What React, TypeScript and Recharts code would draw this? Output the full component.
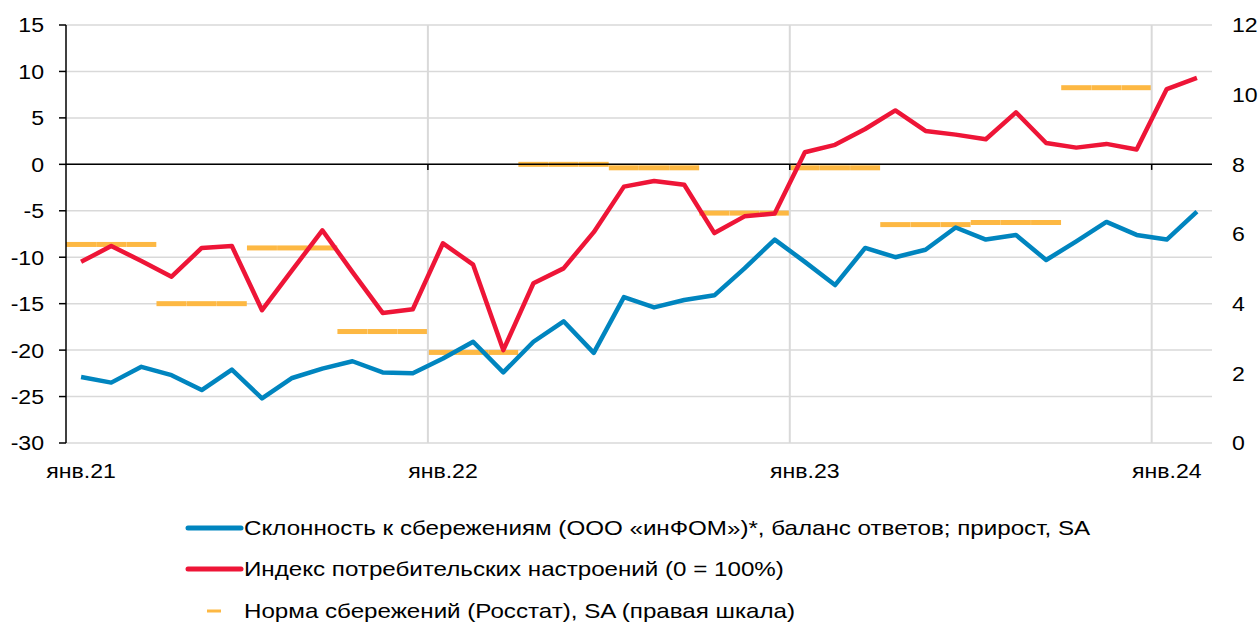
import React from 'react';
import { ComposedChart, Line, Bar, XAxis, YAxis, CartesianGrid, ReferenceLine } from 'recharts';

const BLUE = '#0085BF';
const RED = '#EE1537';
const YELLOW = '#FDB843';
const GRID = '#D9D9D9';
const FONT = 'Liberation Sans, Arial, sans-serif';

const months = [
  'янв.21', 'фев.21', 'мар.21', 'апр.21', 'май.21', 'июн.21', 'июл.21', 'авг.21', 'сен.21', 'окт.21', 'ноя.21', 'дек.21',
  'янв.22', 'фев.22', 'мар.22', 'апр.22', 'май.22', 'июн.22', 'июл.22', 'авг.22', 'сен.22', 'окт.22', 'ноя.22', 'дек.22',
  'янв.23', 'фев.23', 'мар.23', 'апр.23', 'май.23', 'июн.23', 'июл.23', 'авг.23', 'сен.23', 'окт.23', 'ноя.23', 'дек.23',
  'янв.24', 'фев.24',
];

// склонность к сбережениям (инФОМ), баланс ответов
const propensity = [
  -22.9, -23.5, -21.8, -22.7, -24.3, -22.1, -25.2, -23.0, -22.0, -21.2, -22.4, -22.5,
  -20.9, -19.1, -22.4, -19.1, -16.9, -20.3, -14.3, -15.4, -14.6, -14.1, -11.2, -8.1,
  -10.5, -13.0, -9.0, -10.0, -9.2, -6.8, -8.1, -7.6, -10.3, -8.3, -6.2, -7.6,
  -8.1, -5.1,
];

// индекс потребительских настроений
const sentiment = [
  -10.5, -8.8, -10.4, -12.1, -9.0, -8.8, -15.7, -11.4, -7.1, -11.6, -16.0, -15.6,
  -8.5, -10.8, -20.0, -12.8, -11.2, -7.3, -2.4, -1.8, -2.2, -7.4, -5.6, -5.3,
  1.3, 2.1, 3.8, 5.8, 3.6, 3.2, 2.7, 5.6, 2.3, 1.8, 2.2, 1.6,
  8.1, 9.3,
];

// норма сбережений Росстат, по кварталам (правая шкала)
const savingsRate = [5.7, 4.0, 5.6, 3.2, 2.6, 8.0, 7.9, 6.6, 7.9, 6.27, 6.33, 10.2];

const yearTicks = ['янв.22', 'янв.23', 'янв.24'];
const leftTicks = [-30, -25, -20, -15, -10, -5, 0, 5, 10, 15];
const rightTicks = [0, 2, 4, 6, 8, 10, 12];

const legendItems = [
  { label: 'Склонность к сбережениям (ООО «инФОМ»)*, баланс ответов; прирост, SA', color: BLUE, kind: 'line' },
  { label: 'Индекс потребительских настроений (0 = 100%)', color: RED, kind: 'line' },
  { label: 'Норма сбережений (Росстат), SA (правая шкала)', color: YELLOW, kind: 'dash' },
];

const data = months.map((m, i) => ({
  month: m,
  propensity: propensity[i],
  sentiment: sentiment[i],
  savings: savingsRate[Math.floor(i / 3)] ?? null,
}));

const QuarterDash = (props: any) => {
  const { x, y, width, payload } = props;
  if (payload == null || payload.savings == null || !isFinite(y)) return null;
  return <line x1={x} x2={x + width} y1={y} y2={y} stroke={YELLOW} strokeWidth={5} />;
};

// подписи чуть растянуты по горизонтали, как в оригинале
const makeTick = (anchor: string, dy: string) => (props: any) => {
  const { x, y, payload } = props;
  return (
    <text
      transform={`translate(${x},${y}) scale(1.1,1)`}
      textAnchor={anchor}
      dy={dy}
      fontSize={21}
      fontFamily={FONT}
      fill="#000"
    >
      {payload.value}
    </text>
  );
};

const XTick = makeTick('middle', '0.71em');
const LeftTick = makeTick('end', '0.355em');
const RightTick = makeTick('start', '0.355em');

export default function App() {
  return (
    <div style={{ position: 'relative', width: 1260, height: 623, fontFamily: FONT, overflow: 'hidden' }}>
      <style>{'body { margin: 0; }'}</style>
      <ComposedChart
        width={1260}
        height={483}
        data={data}
        margin={{ top: 25, right: 8, bottom: 0, left: 16 }}
        barCategoryGap={0}
        barGap={0}
      >
        <CartesianGrid yAxisId="left" vertical={false} stroke={GRID} strokeWidth={1.5} />
        <XAxis
          dataKey="month"
          interval={11}
          axisLine={false}
          tickLine={false}
          tickSize={0}
          tickMargin={20}
          height={40}
          tick={XTick}
        />
        <YAxis
          yAxisId="left"
          domain={[-30, 15]}
          ticks={leftTicks}
          width={50}
          axisLine={{ stroke: '#000', strokeWidth: 1.5 }}
          tickLine={{ stroke: '#000', strokeWidth: 1.5 }}
          tickSize={7}
          tickMargin={15}
          tick={LeftTick}
          interval={0}
        />
        <YAxis
          yAxisId="right"
          orientation="right"
          domain={[0, 12]}
          ticks={rightTicks}
          width={40}
          axisLine={false}
          tickLine={false}
          tickSize={0}
          tickMargin={20}
          tick={RightTick}
          interval={0}
        />
        {yearTicks.map((t) => (
          <ReferenceLine key={t} yAxisId="left" x={t} position="start" stroke={GRID} strokeWidth={2} />
        ))}
        <ReferenceLine yAxisId="left" y={0} stroke="#000" strokeWidth={1.5} />
        {yearTicks.map((t) => (
          <ReferenceLine
            key={'tm' + t}
            yAxisId="left"
            position="start"
            segment={[{ x: t, y: 0 }, { x: t, y: -0.6 }]}
            stroke="#000"
            strokeWidth={1.5}
          />
        ))}
        <Line
          yAxisId="left"
          dataKey="propensity"
          stroke={BLUE}
          strokeWidth={4.5}
          dot={false}
          type="linear"
          strokeLinejoin="round"
          isAnimationActive={false}
        />
        <Line
          yAxisId="left"
          dataKey="sentiment"
          stroke={RED}
          strokeWidth={4.5}
          dot={false}
          type="linear"
          strokeLinejoin="round"
          isAnimationActive={false}
        />
        <Bar yAxisId="right" dataKey="savings" shape={QuarterDash} isAnimationActive={false} />
      </ComposedChart>

      <div style={{ position: 'absolute', left: 185, top: 507, fontSize: 21, color: '#000' }}>
        {legendItems.map((it) => (
          <div key={it.label} style={{ display: 'flex', alignItems: 'center', height: 41.5 }}>
            <svg width={59} height={10} style={{ flex: 'none' }}>
              {it.kind === 'line' ? (
                <line x1={3} x2={56} y1={5} y2={5} stroke={it.color} strokeWidth={5} strokeLinecap="round" />
              ) : (
                <line x1={22} x2={36} y1={5} y2={5} stroke={it.color} strokeWidth={3} />
              )}
            </svg>
            <span style={{ whiteSpace: 'nowrap', display: 'inline-block', transform: 'scaleX(1.15)', transformOrigin: 'left center' }}>
              {it.label}
            </span>
          </div>
        ))}
      </div>
    </div>
  );
}
